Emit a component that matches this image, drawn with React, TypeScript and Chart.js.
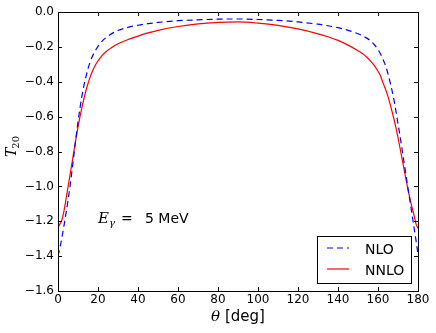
import React, { useEffect, useRef } from "react";
import { Chart, registerables } from "chart.js";

Chart.register(...registerables);

const thetaNLO = [0, 1, 2, 3, 4, 5, 6, 7, 8, 9, 10, 11, 12, 13, 14, 15, 16, 17, 18, 19, 20, 22, 24, 26, 28, 30, 35, 40, 45, 50, 60, 70, 80, 90, 100, 110, 120, 130, 135, 140, 145, 150, 152, 154, 156, 158, 160, 161, 162, 163, 164, 165, 166, 167, 168, 169, 170, 171, 172, 173, 174, 175, 176, 177, 178, 179, 180];
const nloValues = [-1.40, -1.35, -1.29, -1.225, -1.155, -1.08, -1.0, -0.91, -0.815, -0.72, -0.63, -0.55, -0.48, -0.42, -0.37, -0.325, -0.29, -0.26, -0.235, -0.215, -0.197, -0.168, -0.147, -0.13, -0.117, -0.106, -0.088, -0.076, -0.067, -0.06, -0.05, -0.045, -0.041, -0.040, -0.043, -0.048, -0.057, -0.07, -0.079, -0.09, -0.105, -0.125, -0.135, -0.147, -0.163, -0.185, -0.215, -0.235, -0.258, -0.285, -0.315, -0.355, -0.40, -0.45, -0.505, -0.57, -0.64, -0.71, -0.785, -0.86, -0.935, -1.01, -1.085, -1.16, -1.235, -1.31, -1.39];

const thetaNNLO = [0, 1, 2, 3, 4, 5, 6, 7, 8, 9, 10, 11, 12, 13, 14, 15, 16, 17, 18, 19, 20, 22, 24, 26, 28, 30, 35, 40, 45, 50, 60, 70, 80, 90, 100, 110, 120, 130, 135, 140, 145, 150, 152, 154, 156, 158, 160, 161, 162, 163, 164, 165, 166, 167, 168, 169, 170, 171, 172, 173, 174, 175, 176, 177, 178, 178.5, 179, 180];
const nnloValues = [-1.235, -1.215, -1.19, -1.14, -1.075, -1.005, -0.935, -0.865, -0.795, -0.725, -0.66, -0.60, -0.545, -0.495, -0.45, -0.41, -0.375, -0.345, -0.32, -0.298, -0.28, -0.25, -0.228, -0.21, -0.195, -0.182, -0.158, -0.138, -0.12, -0.105, -0.083, -0.068, -0.06, -0.057, -0.064, -0.077, -0.097, -0.125, -0.142, -0.163, -0.19, -0.222, -0.237, -0.255, -0.277, -0.305, -0.34, -0.36, -0.39, -0.42, -0.45, -0.485, -0.525, -0.57, -0.615, -0.665, -0.72, -0.78, -0.84, -0.90, -0.96, -1.02, -1.07, -1.12, -1.165, -1.19, -1.215, -1.24];

const xTicks = [0, 20, 40, 60, 80, 100, 120, 140, 160, 180];
const yTicks = [0, -0.2, -0.4, -0.6, -0.8, -1.0, -1.2, -1.4, -1.6];

const seriesLabels = ["NLO", "NNLO"];
const annotationText = "5 MeV";

const SANS = "'DejaVu Sans', sans-serif";
const SERIF = "'DejaVu Serif', serif";

const decorPlugin = {
  id: "decor",
  afterDraw(chart: any) {
    const { ctx, chartArea } = chart;
    const { left, right, top, bottom } = chartArea;
    const xs = chart.scales.x;
    const ys = chart.scales.y;
    ctx.save();
    ctx.strokeStyle = "#000";
    ctx.lineWidth = 1;
    ctx.strokeRect(Math.round(left) + 0.5, Math.round(top) + 0.5, Math.round(right - left), Math.round(bottom - top));
    const tl = 4;
    ctx.beginPath();
    xTicks.forEach((v) => {
      const px = Math.round(xs.getPixelForValue(v)) + 0.5;
      ctx.moveTo(px, bottom);
      ctx.lineTo(px, bottom - tl);
      ctx.moveTo(px, top);
      ctx.lineTo(px, top + tl);
    });
    yTicks.forEach((v) => {
      const py = Math.round(ys.getPixelForValue(v)) + 0.5;
      ctx.moveTo(left, py);
      ctx.lineTo(left + tl, py);
      ctx.moveTo(right, py);
      ctx.lineTo(right - tl, py);
    });
    ctx.stroke();

    ctx.fillStyle = "#000";
    ctx.textBaseline = "alphabetic";
    ctx.textAlign = "left";
    // x axis title
    ctx.font = `italic 15px ${SERIF}`;
    const thW = ctx.measureText("θ").width;
    ctx.font = `15px ${SANS}`;
    const restW = ctx.measureText(" [deg]").width;
    const cx = (left + right) / 2;
    const sx = cx - (thW + restW) / 2;
    ctx.font = `italic 15px ${SERIF}`;
    ctx.fillText("θ", sx, 321);
    ctx.font = `15px ${SANS}`;
    ctx.fillText(" [deg]", sx + thW, 321);

    // y axis title
    ctx.save();
    ctx.translate(16, 157);
    ctx.rotate(-Math.PI / 2);
    ctx.font = `italic 14px ${SERIF}`;
    ctx.fillText("T", 0, 0);
    const tW = ctx.measureText("T").width;
    ctx.font = `10px ${SERIF}`;
    ctx.fillText("20", tW - 1, 3);
    ctx.restore();

    // annotation
    ctx.font = `italic 15px ${SERIF}`;
    ctx.fillText("E", 98, 223);
    const eW = ctx.measureText("E").width;
    ctx.font = `italic 10px ${SERIF}`;
    ctx.fillText("γ", 98 + eW, 226);
    ctx.font = `14px ${SANS}`;
    ctx.fillText("=", 121, 223);
    ctx.fillText(annotationText, 145, 223);

    // legend
    ctx.fillStyle = "#fff";
    ctx.fillRect(317.5, 236.5, 94, 47);
    ctx.strokeStyle = "#000";
    ctx.lineWidth = 1;
    ctx.strokeRect(317.5, 236.5, 94, 47);
    const rows = [248, 269];
    chart.data.datasets.forEach((ds: any, i: number) => {
      const y = rows[i];
      ctx.beginPath();
      ctx.strokeStyle = ds.borderColor;
      ctx.lineWidth = ds.borderWidth;
      ctx.setLineDash(ds.borderDash || []);
      ctx.moveTo(327, y);
      ctx.lineTo(349, y);
      ctx.stroke();
      ctx.setLineDash([]);
      ctx.fillStyle = "#000";
      ctx.font = `14px ${SANS}`;
      ctx.fillText(ds.label, 365, y + 6);
    });
    ctx.restore();
  },
};

export default function App() {
  const canvasRef = useRef<HTMLCanvasElement | null>(null);

  useEffect(() => {
    if (!canvasRef.current) return;
    const chart = new Chart(canvasRef.current, {
      type: "line",
      data: {
        datasets: [
          {
            label: seriesLabels[0],
            data: thetaNLO.map((t, i) => ({ x: t, y: nloValues[i] })),
            borderColor: "#0000ff",
            borderWidth: 1.2,
            borderDash: [6, 4],
            pointRadius: 0,
            cubicInterpolationMode: "monotone",
            fill: false,
          },
          {
            label: seriesLabels[1],
            data: thetaNNLO.map((t, i) => ({ x: t, y: nnloValues[i] })),
            borderColor: "#ff0000",
            borderWidth: 1.2,
            pointRadius: 0,
            cubicInterpolationMode: "monotone",
            fill: false,
          },
        ],
      },
      options: {
        animation: false,
        responsive: true,
        maintainAspectRatio: false,
        layout: { padding: { left: 0, top: 12, right: 18, bottom: 0 } },
        plugins: { legend: { display: false }, tooltip: { enabled: false } },
        scales: {
          x: {
            type: "linear",
            min: 0,
            max: 180,
            grid: { display: false, drawTicks: false },
            border: { display: false },
            afterBuildTicks: (s: any) => {
              s.ticks = xTicks.map((v) => ({ value: v }));
            },
            afterFit: (s: any) => {
              s.height = 42;
            },
            ticks: {
              padding: 2,
              maxRotation: 0,
              autoSkip: false,
              color: "#000",
              font: { family: SANS, size: 12 },
              callback: (v: any) => String(v),
            },
          },
          y: {
            type: "linear",
            min: -1.6,
            max: 0,
            grid: { display: false, drawTicks: false },
            border: { display: false },
            afterBuildTicks: (s: any) => {
              s.ticks = yTicks.map((v) => ({ value: v }));
            },
            afterFit: (s: any) => {
              s.width = 58;
            },
            ticks: {
              padding: 4,
              autoSkip: false,
              color: "#000",
              font: { family: SANS, size: 12 },
              callback: (v: any) => {
                const n = Number(v);
                const s = Math.abs(n).toFixed(1);
                return n < 0 ? "\u2212" + s : s;
              },
            },
          },
        },
      },
      plugins: [decorPlugin],
    });
    return () => chart.destroy();
  }, []);

  return (
    <div style={{ position: "fixed", left: 0, top: 0, width: 436, height: 333, background: "#fff" }}>
      <canvas ref={canvasRef} />
    </div>
  );
}
